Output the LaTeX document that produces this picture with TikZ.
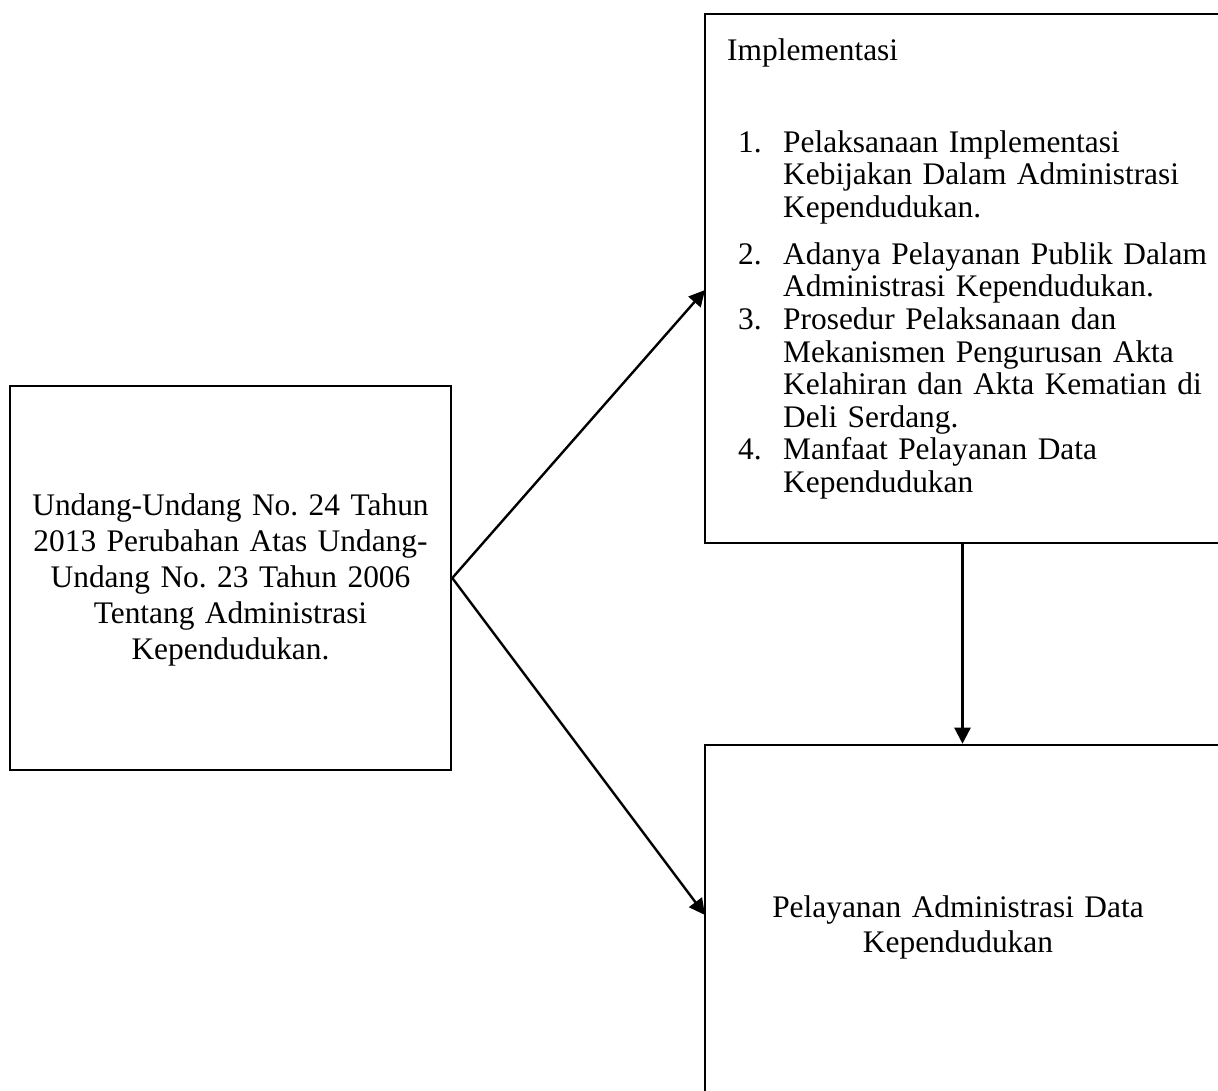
\documentclass[tikz,border=0pt]{standalone}
\usepackage{fontspec}
\setmainfont{Liberation Serif}
\usetikzlibrary{arrows.meta}
\frenchspacing
\begin{document}
\begin{tikzpicture}[x=1pt,y=-1pt,
  box/.style={draw,line width=2.6pt,inner sep=0pt,rectangle},
  txt/.style={inner sep=0pt,font=\fontsize{31.4pt}{32.6pt}\selectfont},
  wide/.style={font=\fontsize{31.4pt}{36pt}\selectfont},
  arr/.style={line width=2.4pt,-{Triangle[length=16pt,width=16pt]}}]
\useasboundingbox (0,0) rectangle (1218,1090);
\clip (0,0) rectangle (1218,1090);
% boxes
\node[box,minimum width=441pt,minimum height=384pt] (law) at (230.5,578) {};
\node[box,minimum width=515pt,minimum height=529pt] (impl) at (962.5,278.5) {};
\node[box,minimum width=515pt,minimum height=365pt] (svc) at (962.5,927.5) {};
% texts
\node[txt,wide,text width=430pt,align=center,anchor=base] (lawtext) at (230.5,515)
  {Undang-Undang No. 24 Tahun\\2013 Perubahan Atas Undang-\\Undang No. 23 Tahun 2006\\Tentang Administrasi\\Kependudukan.};
\node[txt,text width=490pt,align=left,anchor=base west] (impltext) at (727,60)
  {Implementasi\\[59.4pt]
   \hspace*{11pt}\makebox[45pt][l]{1.}Pelaksanaan Implementasi\\
   \hspace*{56pt}Kebijakan Dalam Administrasi\\
   \hspace*{56pt}Kependudukan.\\[14.4pt]
   \hspace*{11pt}\makebox[45pt][l]{2.}Adanya Pelayanan Publik Dalam\\
   \hspace*{56pt}Administrasi Kependudukan.\\
   \hspace*{11pt}\makebox[45pt][l]{3.}Prosedur Pelaksanaan dan\\
   \hspace*{56pt}Mekanismen Pengurusan Akta\\
   \hspace*{56pt}Kelahiran dan Akta Kematian di\\
   \hspace*{56pt}Deli Serdang.\\
   \hspace*{11pt}\makebox[45pt][l]{4.}Manfaat Pelayanan Data\\
   \hspace*{56pt}Kependudukan};
\node[txt,font=\fontsize{31.4pt}{35pt}\selectfont,text width=450pt,align=center,anchor=base] (svctext) at (958,917)
  {Pelayanan Administrasi Data\\Kependudukan};
% connectors
\coordinate (ta) at (705,290);
\coordinate (ba) at (705,915);
\draw[arr] (law.east) -- (ta);
\draw[arr] (law.east) -- (ba);
\draw[arr] (impl.south) -- (svc.north);
\end{tikzpicture}
\end{document}
